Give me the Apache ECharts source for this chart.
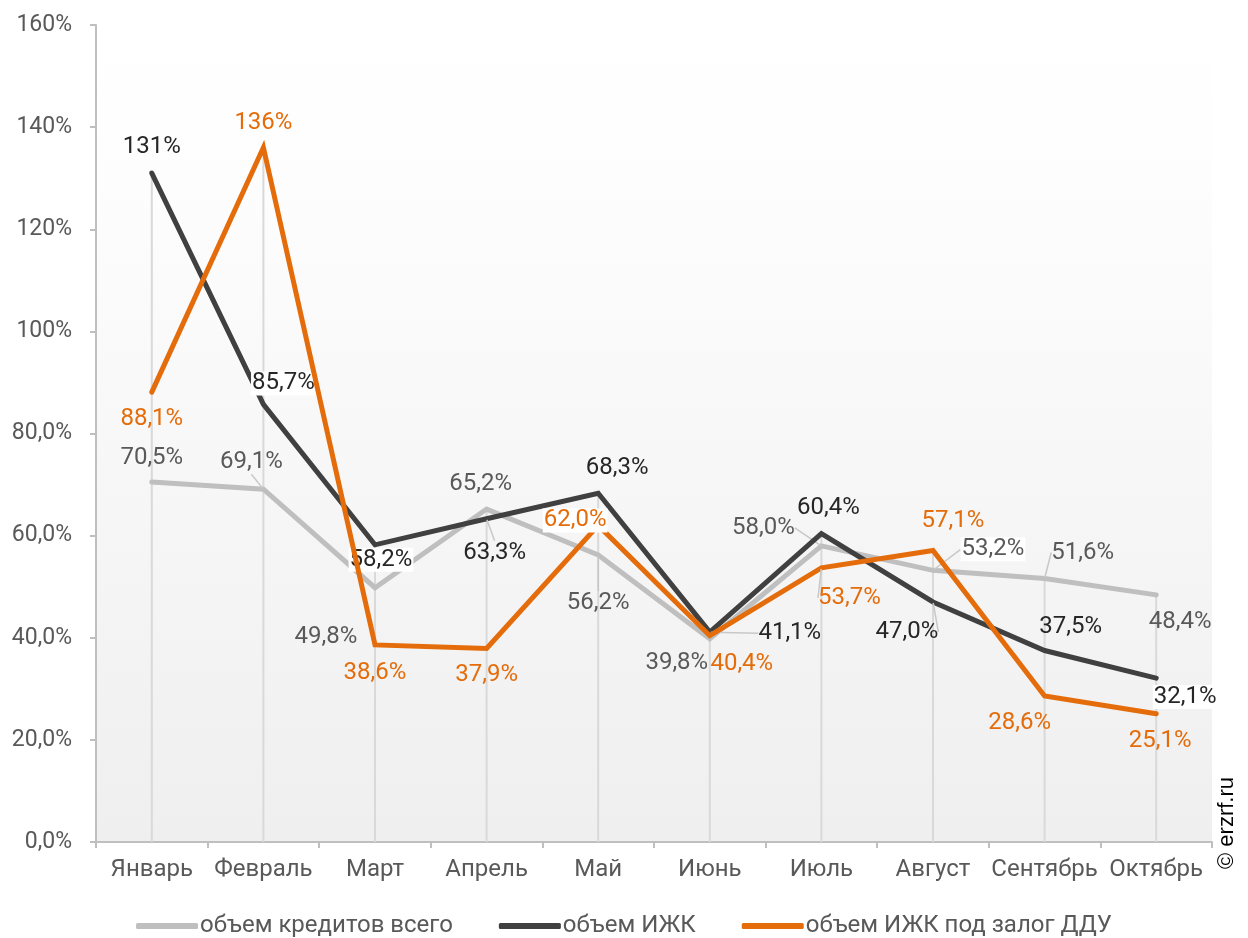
<!DOCTYPE html>
<html>
<head>
<meta charset="utf-8">
<script src="https://cdn.jsdelivr.net/npm/echarts@6/dist/echarts.min.js"></script>
<style>
  html, body { margin: 0; padding: 0; background: #fff; }
  #chart { width: 1248px; height: 938px; }
</style>
</head>
<body>
<div id="chart"></div>
<script>
// категории
var months = ['Январь', 'Февраль', 'Март', 'Апрель', 'Май', 'Июнь', 'Июль', 'Август', 'Сентябрь', 'Октябрь'];
// значения, %
var creditsTotal = [70.5, 69.1, 49.8, 65.2, 56.2, 39.8, 58.0, 53.2, 51.6, 48.4];
var izhk = [131, 85.7, 58.2, 63.3, 68.3, 41.1, 60.4, 47.0, 37.5, 32.1];
var izhkDdu = [88.1, 136, 38.6, 37.9, 62.0, 40.4, 53.7, 57.1, 28.6, 25.1];
var seriesNames = ['объем кредитов всего', 'объем ИЖК', 'объем ИЖК под залог ДДУ'];

// смещения подписей от точки (px), по сериям
var labelShift = [
  [[0, -24], [-12, -27], [-49, 49], [-6, -25], [0, 48], [-33, 24], [-58, -18], [60, -21], [38, -26], [24, 27]],
  [[0, -26], [20, -21], [6, 15], [8, 34], [19, -25], [80, 1], [7, -26], [-26, 30], [26, -24], [29, 19]],
  [[0, 27], [0, -25], [0, 28], [0, 27], [-23, -5], [32, 28], [28, 30], [20, -29], [-25, 27], [4, 27]]
];
// где есть линии выноски
var leaders = [
  [1, 4, 6, 7, 8],
  [3, 5, 7],
  [6]
];
// где подпись на белом фоне
var whiteBg = [
  [7],
  [1, 2, 9],
  [4]
];

var colors = ['#BFBFBF', '#404040', '#E46C0A'];
var labelColors = ['#595959', '#262626', '#E46C0A'];

function fmt(v) {
  if (v >= 100) return Math.round(v) + '%';
  return v.toFixed(1).replace('.', ',') + '%';
}

// вертикальные линии до максимума
var dropTop = months.map(function (m, i) {
  return Math.max(creditsTotal[i], izhk[i], izhkDdu[i]);
});

function lineSeries(idx, values) {
  return {
    name: seriesNames[idx],
    type: 'line',
    data: values.map(function (v, i) {
      var item = { value: v };
      if (leaders[idx].indexOf(i) >= 0) {
        item.labelLine = { show: true };
      }
      if (whiteBg[idx].indexOf(i) >= 0) {
        item.label = { backgroundColor: '#ffffff', padding: [0, 1] };
      }
      return item;
    }),
    symbol: 'circle',
    symbolSize: 2,
    z: 3 + idx,
    lineStyle: { color: colors[idx], width: 5, cap: 'round', join: 'miter' },
    itemStyle: { color: colors[idx] },
    label: {
      show: true,
      position: 'inside',
      color: labelColors[idx],
      fontFamily: 'Roboto',
      fontSize: 24,
      formatter: function (p) { return fmt(p.value); }
    },
    labelLine: {
      show: false,
      lineStyle: { color: '#C8C8C8', width: 1.5 }
    },
    emphasis: { disabled: true }
  };
}

var chart = echarts.init(document.getElementById('chart'));
var option = {
  animation: false,
  textStyle: { fontFamily: 'Roboto' },
  grid: {
    left: 96, right: 36, top: 25, bottom: 96,
    show: true,
    borderWidth: 0,
    backgroundColor: {
      type: 'linear', x: 0, y: 0, x2: 0, y2: 1,
      colorStops: [
        { offset: 0, color: '#ffffff' },
        { offset: 0.2, color: '#fdfdfd' },
        { offset: 1, color: '#efefef' }
      ]
    }
  },
  legend: {
    top: 909,
    left: 'center',
    data: seriesNames,
    icon: 'roundRect',
    itemWidth: 62,
    itemHeight: 6,
    itemGap: 46,
    textStyle: { color: '#595959', fontSize: 24, fontFamily: 'Roboto', padding: [0, 0, 0, -3] }
  },
  xAxis: {
    type: 'category',
    data: months,
    boundaryGap: true,
    axisLine: { lineStyle: { color: '#BFBFBF', width: 2 } },
    axisTick: { show: true, length: 6, lineStyle: { color: '#BFBFBF', width: 2 } },
    axisLabel: { color: '#595959', fontSize: 24, margin: 16, interval: 0 },
    splitLine: { show: false }
  },
  yAxis: {
    type: 'value',
    min: 0,
    max: 160,
    interval: 20,
    axisLine: { show: true, lineStyle: { color: '#BFBFBF', width: 2 } },
    axisTick: { show: true, length: 6, lineStyle: { color: '#BFBFBF', width: 2 } },
    axisLabel: {
      color: '#595959', fontSize: 23, margin: 24,
      formatter: function (v) { return fmt(v); }
    },
    splitLine: { show: false }
  },
  labelLayout: function (p) {
    if (p.seriesIndex > 2) return {};
    var s = labelShift[p.seriesIndex][p.dataIndex];
    return {
      x: p.rect.x + p.rect.width / 2 + s[0],
      y: p.rect.y + p.rect.height / 2 + s[1],
      align: 'center',
      verticalAlign: 'middle'
    };
  },
  series: [
    lineSeries(0, creditsTotal),
    lineSeries(1, izhk),
    lineSeries(2, izhkDdu),
    {
      name: 'drop',
      type: 'bar',
      data: dropTop,
      barWidth: 2,
      z: 1,
      silent: true,
      itemStyle: { color: '#D9D9D9' },
      label: { show: false }
    }
  ],
  graphic: [{
    type: 'text',
    x: 1216,
    y: 869,
    rotation: Math.PI / 2,
    style: {
      text: '© erzrf.ru',
      fill: '#000000',
      font: '22px "Liberation Sans", Arial, sans-serif'
    }
  }]
};
chart.setOption(option);
</script>
</body>
</html>
